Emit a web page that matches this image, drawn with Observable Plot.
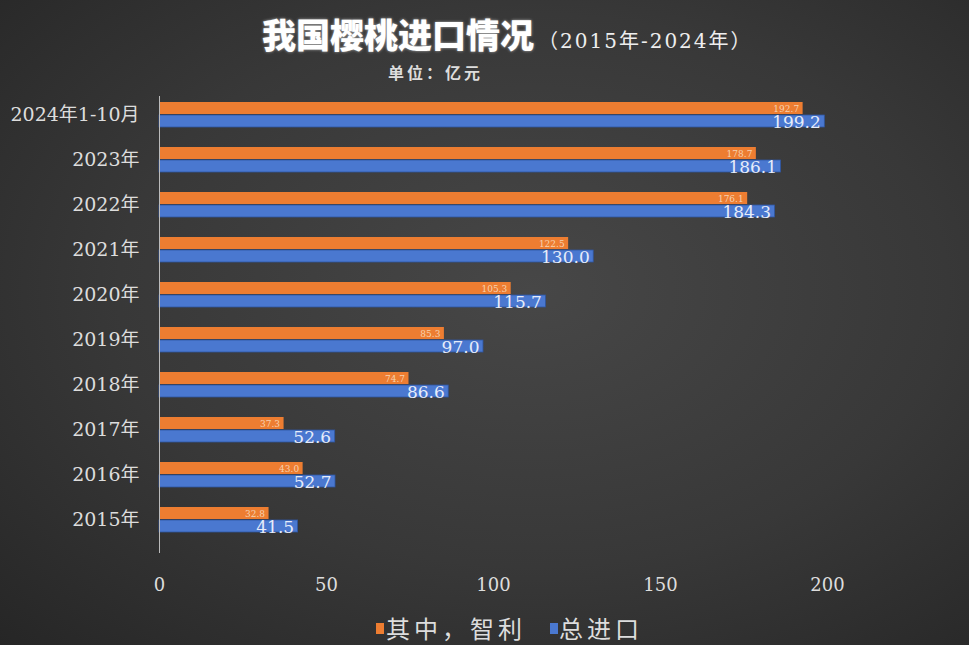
<!DOCTYPE html>
<html>
<head>
<meta charset="utf-8">
<script src="https://cdn.jsdelivr.net/npm/d3@7"></script>
<script src="https://cdn.jsdelivr.net/npm/@observablehq/plot@0.6"></script>
<style>
  html, body { margin: 0; padding: 0; }
  body { width: 969px; height: 645px; overflow: hidden;
    background: radial-gradient(ellipse at 55% 45%, #474747 0%, #383838 55%, #262626 100%); }
  #wrap { position: relative; width: 969px; height: 645px; font-family: "DejaVu Serif", "Noto Sans CJK SC", serif; }
  #title { position: absolute; top: 9px; left: 262px; color: #fff; white-space: nowrap;
    font-family: "Noto Sans CJK SC", sans-serif; font-weight: 900; font-size: 34px;
    text-shadow: 0 0 3px rgba(255,255,255,0.6); }
  #title span { font-size: 20px; font-weight: 400; letter-spacing: 2px; font-family: "DejaVu Serif", "Noto Sans CJK SC", serif; text-shadow: none; color: #eee; margin-left: 4px; }
  #sub { position: absolute; top: 60px; left: 388px; color: #ddd; font-family: "Noto Sans CJK SC", sans-serif;
    font-weight: 700; font-size: 16px; letter-spacing: 3px; }
  #chart { position: absolute; top: 90px; left: 0; }
  .lg { position: absolute; color: #ddd; font-family: "Noto Sans CJK SC", sans-serif; font-size: 24px; letter-spacing: 4px; white-space: nowrap; top: 610px; }
  .sw { position: absolute; width: 8px; height: 11px; top: 623px; }
</style>
</head>
<body>
<div id="wrap">
  <div id="title">我国樱桃进口情况<span>（2015年-2024年）</span></div>
  <div id="sub">单位：亿元</div>
  <div id="chart"></div>
  <span class="sw" style="left:376px;background:#ed7d31"></span><span class="lg" style="left:386px">其中，智利</span>
  <span class="sw" style="left:550px;background:#4a78d0"></span><span class="lg" style="left:559px">总进口</span>
</div>
<script>
const categories = ["2024年1-10月","2023年","2022年","2021年","2020年","2019年","2018年","2017年","2016年","2015年"];
const chile = [192.7, 178.7, 176.1, 122.5, 105.3, 85.3, 74.7, 37.3, 43.0, 32.8];
const total = [199.2, 186.1, 184.3, 130.0, 115.7, 97.0, 86.6, 52.6, 52.7, 41.5];
const xTicks = [0, 50, 100, 150, 200];

const data = categories.map((c, i) => ({cat: c, chile: chile[i], total: total[i]}));

const chart = Plot.plot({
  width: 969,
  height: 513,
  marginLeft: 159,
  marginRight: 142,
  marginTop: 6,
  marginBottom: 65,
  style: {background: "transparent", color: "#ddd", fontFamily: "'DejaVu Serif', 'Noto Sans CJK SC', serif"},
  x: {domain: [0, 200]},
  y: {domain: categories, paddingInner: 0.45, paddingOuter: 0.1},
  marks: [
    Plot.barX(data, {x: "chile", y: "cat", fill: "#ed7d31", insetBottom: 13}),
    Plot.barX(data, {x: "total", y: "cat", fill: "#4a78d0", stroke: "#2f55a0", strokeWidth: 0.8, insetTop: 13}),
    Plot.text(data, {x: "chile", y: "cat", text: d => d.chile.toFixed(1), textAnchor: "end", dx: -4, dy: -6, fill: "#f7d2b0", fontSize: 9}),
    Plot.text(data, {x: "total", y: "cat", text: d => d.total.toFixed(1), textAnchor: "end", dx: -4, dy: 8, fill: "#e6ecfa", fontSize: 17}),
    Plot.ruleX([0], {stroke: "#bbb", strokeWidth: 1, insetBottom: -15}),
    Plot.axisX({ticks: xTicks, tickSize: 0, tickPadding: 40, fontSize: 18, label: null, fill: "#ddd"}),
    Plot.axisY({tickSize: 0, tickPadding: 20, fontSize: 19, label: null, fill: "#ddd"})
  ]
});
document.getElementById("chart").appendChild(chart);
</script>
</body>
</html>
